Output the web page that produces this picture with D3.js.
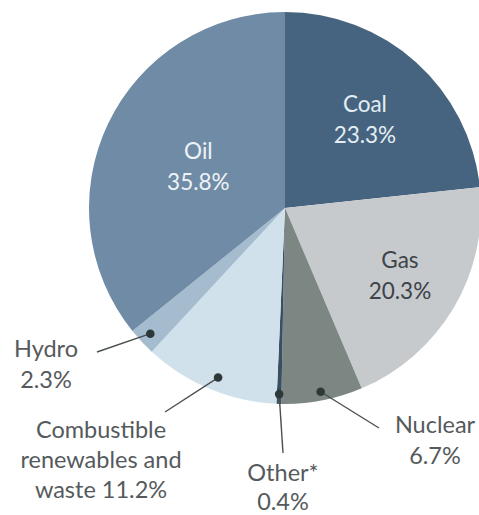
<!DOCTYPE html>
<html>
<head>
<meta charset="utf-8">
<script src="https://cdn.jsdelivr.net/npm/d3@7"></script>
<style>
  html, body { margin: 0; padding: 0; background: #ffffff; }
  svg { display: block; }
  text { font-family: "Lato", "Open Sans", sans-serif; font-weight: 400; }
</style>
</head>
<body>
<svg id="chart" width="479" height="515"></svg>
<script>
// Share of total primary energy supply by source (%)
const categories = ["Coal", "Gas", "Nuclear", "Other*", "Combustible renewables and waste", "Hydro", "Oil"];
const values = [23.3, 20.3, 6.7, 0.4, 11.2, 2.3, 35.8];
const labelLines = [
  ["Coal", "23.3%"],
  ["Gas", "20.3%"],
  ["Nuclear", "6.7%"],
  ["Other*", "0.4%"],
  ["Combustible", "renewables and", "waste 11.2%"],
  ["Hydro", "2.3%"],
  ["Oil", "35.8%"]
];

const colors = {
  "Coal": "#46637f",
  "Gas": "#c6cacd",
  "Nuclear": "#7c8784",
  "Other*": "#3b4f63",
  "Combustible renewables and waste": "#d0e1ec",
  "Hydro": "#a5bccf",
  "Oil": "#6f8ba5"
};

const cx = 285, cy = 208, R = 196;

const svg = d3.select("#chart");
const g = svg.append("g").attr("transform", `translate(${cx},${cy})`);

const rows = categories.map((c, i) => ({ name: c, value: values[i], lines: labelLines[i] }));
const pie = d3.pie().value(d => d.value).sort(null).startAngle(0).endAngle(2 * Math.PI);
const arcs = pie(rows);
const arc = d3.arc().innerRadius(0).outerRadius(R);

g.selectAll("path.slice")
  .data(arcs)
  .join("path")
  .attr("class", "slice")
  .attr("d", arc)
  .attr("fill", d => colors[d.data.name]);

// Labels placed inside the larger slices
const inside = {
  "Coal":  { r: 0.61, fill: "#e3eef4" },
  "Gas":   { r: 0.68, fill: "#3d4348" },
  "Oil":   { r: 0.49, fill: "#eef3f6" }
};
const lineH = 31;
arcs.filter(d => inside[d.data.name]).forEach(d => {
  const cfg = inside[d.data.name];
  const a = (d.startAngle + d.endAngle) / 2;
  const x = Math.sin(a) * R * cfg.r;
  const y = -Math.cos(a) * R * cfg.r;
  const t = g.append("text")
    .attr("text-anchor", "middle")
    .attr("font-size", 22.5)
    .attr("fill", cfg.fill);
  d.data.lines.forEach((ln, k) => {
    t.append("tspan")
      .attr("x", x)
      .attr("y", y + (k - (d.data.lines.length - 1) / 2) * lineH + 8)
      .text(ln);
  });
});

// Callout labels for the small slices: dot on the slice, leader line, text block
const callouts = {
  "Hydro":   { dotR: 0.94, da: 0, end: [97, 352], tx: 46, ty: 357, lh: 31 },
  "Combustible renewables and waste": { dotR: 0.93, da: -0.02, end: [165, 412], tx: 101, ty: 438, lh: 30 },
  "Other*":  { dotR: 0.95, da: 0, end: [283, 453], tx: 283, ty: 481, lh: 29 },
  "Nuclear": { dotR: 0.955, da: 0, end: [379, 428], tx: 435, ty: 433, lh: 31 }
};
const ink = "#2e3838";
arcs.filter(d => callouts[d.data.name]).forEach(d => {
  const cfg = callouts[d.data.name];
  const a = (d.startAngle + d.endAngle) / 2 + cfg.da;
  const px = cx + Math.sin(a) * R * cfg.dotR;
  const py = cy - Math.cos(a) * R * cfg.dotR;
  svg.append("line")
    .attr("x1", px).attr("y1", py)
    .attr("x2", cfg.end[0]).attr("y2", cfg.end[1])
    .attr("stroke", "#4a4f50")
    .attr("stroke-width", 1.4);
  svg.append("circle")
    .attr("cx", px).attr("cy", py)
    .attr("r", 4.3)
    .attr("fill", ink);
  const t = svg.append("text")
    .attr("text-anchor", "middle")
    .attr("font-size", 23.5)
    .attr("fill", "#555a5c");
  d.data.lines.forEach((ln, k) => {
    t.append("tspan")
      .attr("x", cfg.tx)
      .attr("y", cfg.ty + k * cfg.lh)
      .text(ln);
  });
});
</script>
</body>
</html>
